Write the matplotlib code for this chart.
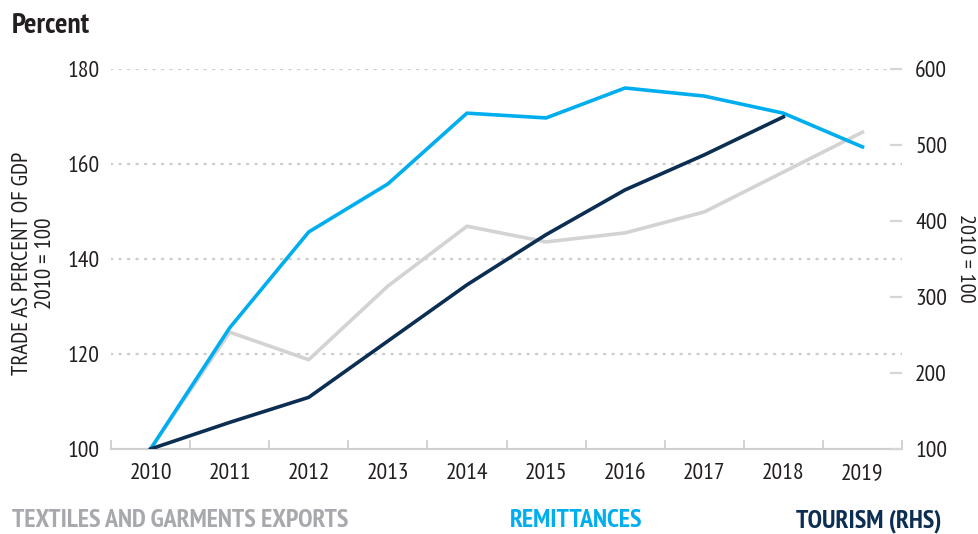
import matplotlib
matplotlib.use("Agg")
import matplotlib.pyplot as plt
import numpy as np

# data
years = [2010, 2011, 2012, 2013, 2014, 2015, 2016, 2017, 2018, 2019]
textiles = [100, 124.6, 118.8, 134.3, 146.9, 143.6, 145.5, 149.9, 158.3, 166.7]
remittances = [100, 125.5, 145.7, 155.8, 170.7, 169.7, 176.0, 174.3, 170.7, 163.6]
tourism_years = [2010, 2011, 2012, 2013, 2014, 2015, 2016, 2017, 2018]
tourism = [100, 135, 168, 242, 316, 382, 441, 487, 537]

left_ticks = [100, 120, 140, 160, 180]
right_ticks = [100, 200, 300, 400, 500, 600]

BLUE = "#00AEEF"
NAVY = "#0B2E52"
GREY_LINE = "#D3D3D3"
GREY_TEXT = "#A7A9AC"
AXIS_GREY = "#CFCFCF"
TXT = "#231F20"

plt.rcParams["font.family"] = ["PT Sans Narrow", "IBM Plex Sans Condensed", "DejaVu Sans"]

W, H = 979, 534
fig = plt.figure(figsize=(W / 100, H / 100), dpi=100)
ax = fig.add_axes([111 / W, 85 / H, (902 - 111) / W, (449 - 69) / H])
ax2 = ax.twinx()

ax.plot(years, textiles, color=GREY_LINE, lw=2.6, zorder=3)
ax.plot(years, remittances, color=BLUE, lw=2.6, zorder=5)
ax2.plot(tourism_years, tourism, color=NAVY, lw=2.6, zorder=4)

ax.set_xlim(2009.5, 2019.5)
ax.set_ylim(100, 180)
ax2.set_ylim(100, 600)

for a in (ax, ax2):
    for s in ("top", "left", "right"):
        a.spines[s].set_visible(False)
    a.patch.set_visible(False)
ax2.spines["bottom"].set_visible(False)
ax.spines["bottom"].set_color(AXIS_GREY)
ax.spines["bottom"].set_linewidth(1.5)

# dotted grid at left ticks
for v in left_ticks[1:]:
    ax.axhline(v, color="#CDCDCD", lw=1.7, ls=(0, (0.5, 3.1)),
               dash_capstyle="round", zorder=1)

ax.set_yticks(left_ticks)
ax.set_yticklabels([str(v) for v in left_ticks])
ax.tick_params(axis="y", length=0, pad=8.5, labelsize=17, labelcolor=TXT)

ax.set_xticks(years)
ax.set_xticklabels([str(y) for y in years])
ax.set_xticks(np.arange(2009.5, 2020, 1.0), minor=True)
ax.tick_params(axis="x", which="major", length=0, pad=10, labelsize=17,
               labelcolor=TXT)
ax.tick_params(axis="x", which="minor", direction="in", length=6.5,
               width=1.3, color=AXIS_GREY)

ax2.set_yticks(right_ticks)
ax2.set_yticklabels([str(v) for v in right_ticks])
ax2.tick_params(axis="y", direction="in", length=9, width=1.6,
                color="#D6D6D6", pad=9.5, labelsize=17, labelcolor=TXT)

fig.text(12 / W, 1 - 26 / H, "Percent", fontsize=21, fontweight="bold",
         color=TXT, ha="left", va="center")

fig.text(34 / W, 1 - 263 / H, "TRADE AS PERCENT OF GDP\n2010 = 100",
         rotation=90, ha="center", va="center", multialignment="center",
         fontsize=16.5, color=TXT, linespacing=1.1)
fig.text(966 / W, 1 - 258 / H, "2010 = 100", rotation=270, ha="center",
         va="center", fontsize=16, color=TXT)

fig.text(12 / W, 7 / H, "TEXTILES AND GARMENTS EXPORTS", fontsize=18.7,
         fontweight="bold", color=GREY_TEXT, ha="left", va="baseline")
fig.text(510 / W, 7 / H, "REMITTANCES", fontsize=18.7, fontweight="bold",
         color=BLUE, ha="left", va="baseline")
fig.text(942 / W, 7 / H, "TOURISM (RHS)", fontsize=18.7, fontweight="bold",
         color=NAVY, ha="right", va="baseline")

fig.savefig("out.png", dpi=100)
